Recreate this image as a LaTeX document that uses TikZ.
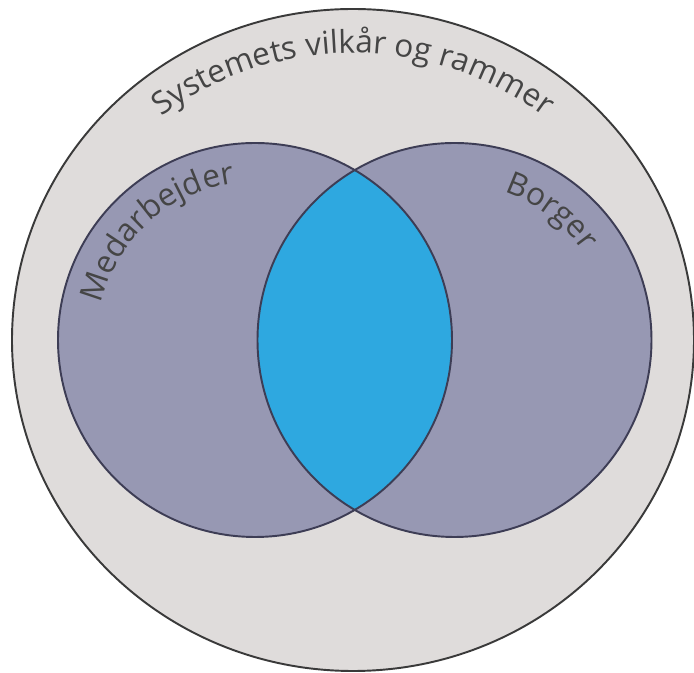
\documentclass[tikz,border=0pt]{standalone}
\usepackage{fontspec}
\setmainfont{Open Sans}
\usepackage{tikz}
\usetikzlibrary{
    calc,
    decorations,
    decorations.text
}

\definecolor{framefill}{HTML}{DFDCDB}
\definecolor{setfill}{HTML}{9798B3}
\definecolor{lensfill}{HTML}{2EA8E0}
\definecolor{rimgray}{HTML}{3A3A3A}
\definecolor{setrim}{HTML}{3D3D55}
\definecolor{labelgray}{HTML}{454545}

\newcommand\vennfont{\fontsize{18}{20}\selectfont\color{labelgray}}

\tikzset{
  frame/.style={fill=framefill, draw=rimgray, line width=1.1pt},
  setdisc/.style={fill=setfill},
  setrimline/.style={draw=setrim, line width=1.1pt},
  arclabel/.style={
    decorate,
    decoration={
      text along path,
      text align=center,
      text={|\vennfont|#1}
    }
  }
}

\begin{document}
\begin{tikzpicture}[x=0.02cm, y=0.02cm]

  \useasboundingbox (0,0) rectangle (694,673);

  \coordinate (frame) at (353,333);
  \coordinate (staff) at (255,333);
  \coordinate (citizen) at (454.5,333);
  \coordinate (title) at (353,300);

  % frame {{{
  \path[frame] (frame) ellipse [x radius=341, y radius=331];
  \path[arclabel={Systemets vilkår og rammer}]
    ($(title)+(150:320)$) arc [start angle=150, end angle=30, radius=320];
  % }}}

  % sets {{{
  \path[setdisc] (staff) circle [radius=197];
  \path[setdisc] (citizen) circle [radius=197];
  \begin{scope}
    \clip (staff) circle [radius=197];
    \fill[lensfill] (citizen) circle [radius=197];
  \end{scope}
  \draw[setrimline] (staff) circle [radius=197];
  \draw[setrimline] (citizen) circle [radius=197];
  % }}}

  % labels {{{
  \path[arclabel={Medarbejder}]
    ($(staff)+(192:158)$) arc [start angle=192, end angle=72, radius=158];
  \path[arclabel={Borger}]
    ($(citizen)+(113:156)$) arc [start angle=113, end angle=-7, radius=156];
  % }}}

\end{tikzpicture}
\end{document}
